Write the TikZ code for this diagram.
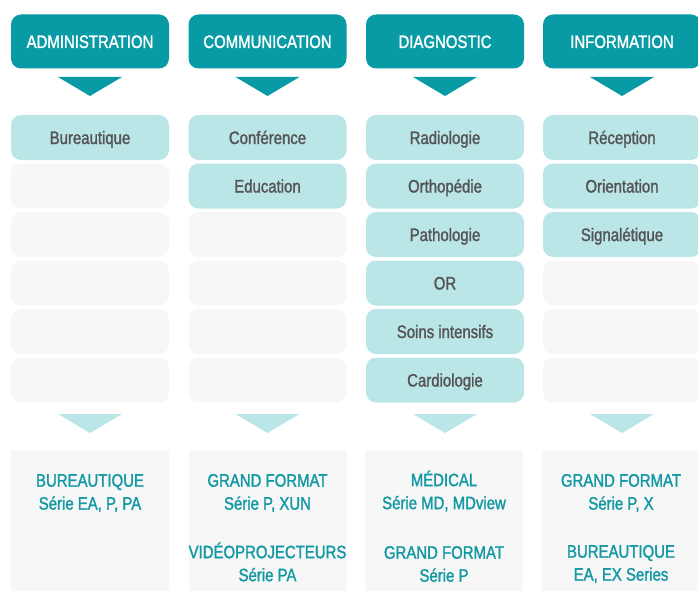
\documentclass[tikz,border=0pt]{standalone}
\usepackage{fontspec}
\setmainfont{Liberation Sans}[FakeStretch=0.83,FakeBold=1.5]
\definecolor{headteal}{HTML}{089BA5}
\definecolor{lightteal}{HTML}{BAE6E7}
\definecolor{palegray}{HTML}{F7F7F7}
\definecolor{labelgray}{HTML}{555555}
\definecolor{prodteal}{HTML}{1399A3}
\begin{document}
\begin{tikzpicture}[x=1pt,y=-1pt,
    header/.style={fill=headteal,text=white,rounded corners=10pt,minimum width=158pt,minimum height=54pt,text height=13pt,text depth=0pt,font=\fontsize{18}{22}\selectfont},
    field/.style={fill=lightteal,text=labelgray,rounded corners=10pt,minimum width=158pt,minimum height=45pt,text height=13pt,text depth=0pt,font=\fontsize{18}{22}\selectfont},
    blank/.style={fill=palegray,rounded corners=10pt,minimum width=158pt,minimum height=45pt},
    prodbox/.style={fill=palegray,minimum width=158pt,minimum height=150pt},
    prodtext/.style={text=prodteal,align=center,font=\fontsize{18}{23}\selectfont}]
    \useasboundingbox (0,0) rectangle (698,591);

    %Headers
    \node[header] at (90,41.5)    (admin) {ADMINISTRATION};
    \node[header] at (267.5,41.5) (comm)  {COMMUNICATION};
    \node[header] at (445,41.5)   (diag)  {DIAGNOSTIC};
    \node[header] at (622,41.5)   (info)  {INFORMATION};

    %Arrows down
    \fill[headteal] (58,77)    -- (122,77)    -- (90,96)    -- cycle;
    \fill[headteal] (235.5,77) -- (299.5,77)  -- (267.5,96) -- cycle;
    \fill[headteal] (413,77)   -- (477,77)    -- (445,96)   -- cycle;
    \fill[headteal] (590,77)   -- (654,77)    -- (622,96)   -- cycle;

    %Fields
    \node[field] at (90,137.5)  (bur)  {Bureautique};
    \node[blank] at (90,186)    (a2)   {};
    \node[blank] at (90,234.5)  (a3)   {};
    \node[blank] at (90,283)    (a4)   {};
    \node[blank] at (90,331.5)  (a5)   {};
    \node[blank] at (90,380)    (a6)   {};

    \node[field] at (267.5,137.5) (conf) {Conférence};
    \node[field] at (267.5,186)   (edu)  {Education};
    \node[blank] at (267.5,234.5) (c3)   {};
    \node[blank] at (267.5,283)   (c4)   {};
    \node[blank] at (267.5,331.5) (c5)   {};
    \node[blank] at (267.5,380)   (c6)   {};

    \node[field] at (445,137.5) (radio)  {Radiologie};
    \node[field] at (445,186)   (ortho)  {Orthopédie};
    \node[field] at (445,234.5) (patho)  {Pathologie};
    \node[field] at (445,283)   (or)     {OR};
    \node[field] at (445,331.5) (soins)  {Soins intensifs};
    \node[field] at (445,380)   (cardio) {Cardiologie};

    \node[field] at (622,137.5) (recep)  {Réception};
    \node[field] at (622,186)   (orient) {Orientation};
    \node[field] at (622,234.5) (signal) {Signalétique};
    \node[blank] at (622,283)   (i4)     {};
    \node[blank] at (622,331.5) (i5)     {};
    \node[blank] at (622,380)   (i6)     {};

    %Arrows to products
    \fill[lightteal] (58,414)    -- (122,414)   -- (90,433)    -- cycle;
    \fill[lightteal] (235.5,414) -- (299.5,414) -- (267.5,433) -- cycle;
    \fill[lightteal] (413,414)   -- (477,414)   -- (445,433)   -- cycle;
    \fill[lightteal] (590,414)   -- (654,414)   -- (622,433)   -- cycle;

    %Products
    \node[prodbox,anchor=north] at (90,450)    (padmin) {};
    \node[prodbox,anchor=north] at (267.5,450) (pcomm)  {};
    \node[prodbox,anchor=north] at (444,450)   (pdiag)  {};
    \node[prodbox,anchor=north] at (621,450)   (pinfo)  {};

    \node[prodtext] at (90,493)    (p1a) {BUREAUTIQUE\\Série EA, P, PA};
    \node[prodtext] at (267.5,493) (p2a) {GRAND FORMAT\\Série P, XUN};
    \node[prodtext] at (267.5,562) (p2b) {VIDÉOPROJECTEURS\\Série PA};
    \node[prodtext] at (444,491)   (p3a) {MÉDICAL\\Série MD, MDview};
    \node[prodtext] at (444,564)   (p3b) {GRAND FORMAT\\Série P};
    \node[prodtext] at (621,493)   (p4a) {GRAND FORMAT\\Série P, X};
    \node[prodtext] at (621,564)   (p4b) {BUREAUTIQUE\\EA, EX Series};
\end{tikzpicture}
\end{document}
